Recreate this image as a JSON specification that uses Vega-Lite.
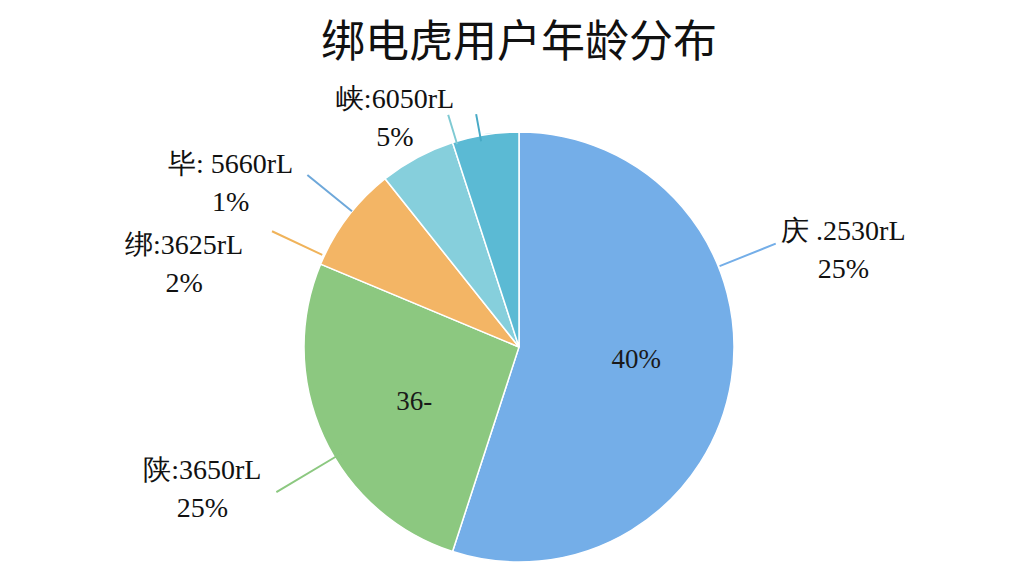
{
  "$schema": "https://vega.github.io/schema/vega-lite/v6.json",
  "autosize": "none",
  "width": 1010,
  "height": 494,
  "padding": {"left": 14, "top": 100, "right": 0, "bottom": 0},
  "background": "white",
  "title": {"text": "绑电虎用户年龄分布", "font": "Noto Sans CJK SC", "fontSize": 44, "fontWeight": "normal", "color": "#111111", "anchor": "middle", "frame": "group", "offset": 20},
  "config": {"view": {"stroke": null}},
  "data": {"values": [
    {"idx": 1, "cat": "a", "value": 55, "label": "庆 .2530rL\n25%", "inner": "40%"},
    {"idx": 2, "cat": "b", "value": 26.3, "label": "陕:3650rL\n25%", "inner": "36-"},
    {"idx": 3, "cat": "c", "value": 8, "label": "绑:3625rL\n2%", "inner": null},
    {"idx": 4, "cat": "d", "value": 5.7, "label": "毕: 5660rL\n1%", "inner": null},
    {"idx": 5, "cat": "e", "value": 5, "label": "峡:6050rL\n5%", "inner": null}
  ]},
  "transform": [
    {"stack": "value", "groupby": [], "sort": [{"field": "idx", "order": "ascending"}], "as": ["v0", "v1"]},
    {"calculate": "(datum.v0 + datum.v1) / 2", "as": "mid"}
  ],
  "layer": [
    {
      "mark": {"type": "arc", "outerRadius": 215, "stroke": "white", "strokeWidth": 1.5},
      "encoding": {
        "theta": {"field": "v0", "type": "quantitative", "scale": {"domain": [0, 100]}},
        "theta2": {"field": "v1"},
        "color": {"field": "cat", "type": "nominal", "scale": {"domain": ["a", "b", "c", "d", "e"], "range": ["#74aee8", "#8cc880", "#f3b565", "#86cfdc", "#5bbad4"]}, "legend": null}
      }
    },
    {
      "transform": [{"filter": "datum.inner != null"}],
      "mark": {"type": "text", "radius": 118, "thetaOffset": -0.05, "font": "Liberation Serif", "fontSize": 27, "color": "#1a1a1a", "align": "center", "baseline": "middle"},
      "encoding": {"theta": {"field": "mid", "type": "quantitative", "stack": null}, "text": {"field": "inner"}}
    },
    {
      "transform": [{"filter": "datum.cat === 'a'"}],
      "layer": [
        {"mark": {"type": "arc", "filled": false, "color": "#74aee8", "strokeWidth": 1.5, "innerRadius": 217, "outerRadius": 276, "thetaOffset": -0.541, "theta2Offset": -0.539},
         "encoding": {"theta": {"field": "mid", "type": "quantitative", "stack": null}, "theta2": {"field": "mid"}}},
        {"mark": {"type": "text", "radius": 344, "thetaOffset": -0.497, "lineBreak": "\n", "lineHeight": 38, "font": "Liberation Serif", "fontSize": 28, "color": "#111111", "align": "center", "baseline": "middle"},
         "encoding": {"theta": {"field": "mid", "type": "quantitative", "stack": null}, "text": {"field": "label"}}}
      ]
    },
    {
      "transform": [{"filter": "datum.cat === 'b'"}],
      "layer": [
        {"mark": {"type": "arc", "filled": false, "color": "#8cc880", "strokeWidth": 1.5, "innerRadius": 208, "outerRadius": 282, "thetaOffset": -0.11, "theta2Offset": -0.108},
         "encoding": {"theta": {"field": "mid", "type": "quantitative", "stack": null}, "theta2": {"field": "mid"}}},
        {"mark": {"type": "text", "radius": 340, "thetaOffset": 0.058, "lineBreak": "\n", "lineHeight": 38, "font": "Liberation Serif", "fontSize": 28, "color": "#111111", "align": "center", "baseline": "middle"},
         "encoding": {"theta": {"field": "mid", "type": "quantitative", "stack": null}, "text": {"field": "label"}}}
      ]
    },
    {
      "transform": [{"filter": "datum.cat === 'c'"}],
      "layer": [
        {"mark": {"type": "arc", "filled": false, "color": "#f0b35a", "strokeWidth": 1.5, "innerRadius": 218, "outerRadius": 272, "thetaOffset": -0.21, "theta2Offset": -0.208},
         "encoding": {"theta": {"field": "mid", "type": "quantitative", "stack": null}, "theta2": {"field": "mid"}}},
        {"mark": {"type": "text", "radius": 350, "thetaOffset": -0.353, "lineBreak": "\n", "lineHeight": 38, "font": "Liberation Serif", "fontSize": 28, "color": "#111111", "align": "center", "baseline": "middle"},
         "encoding": {"theta": {"field": "mid", "type": "quantitative", "stack": null}, "text": {"field": "label"}}}
      ]
    },
    {
      "transform": [{"filter": "datum.cat === 'd'"}],
      "layer": [
        {"mark": {"type": "arc", "filled": false, "color": "#6ea8da", "strokeWidth": 1.5, "innerRadius": 216, "outerRadius": 272, "thetaOffset": -0.396, "theta2Offset": -0.394},
         "encoding": {"theta": {"field": "mid", "type": "quantitative", "stack": null}, "theta2": {"field": "mid"}}},
        {"mark": {"type": "text", "radius": 341, "thetaOffset": -0.515, "lineBreak": "\n", "lineHeight": 38, "font": "Liberation Serif", "fontSize": 28, "color": "#111111", "align": "center", "baseline": "middle"},
         "encoding": {"theta": {"field": "mid", "type": "quantitative", "stack": null}, "text": {"field": "label"}}}
      ]
    },
    {
      "transform": [{"filter": "datum.cat === 'e'"}],
      "layer": [
        {"mark": {"type": "arc", "filled": false, "color": "#7fcad3", "strokeWidth": 1.5, "innerRadius": 213, "outerRadius": 242, "thetaOffset": -0.14, "theta2Offset": -0.138},
         "encoding": {"theta": {"field": "mid", "type": "quantitative", "stack": null}, "theta2": {"field": "mid"}}},
        {"mark": {"type": "arc", "filled": false, "color": "#48aac6", "strokeWidth": 1.5, "innerRadius": 210, "outerRadius": 236, "thetaOffset": -0.026, "theta2Offset": -0.024},
         "encoding": {"theta": {"field": "mid", "type": "quantitative", "stack": null}, "theta2": {"field": "mid"}}},
        {"mark": {"type": "text", "radius": 276, "thetaOffset": -0.309, "lineBreak": "\n", "lineHeight": 38, "font": "Liberation Serif", "fontSize": 28, "color": "#111111", "align": "center", "baseline": "middle"},
         "encoding": {"theta": {"field": "mid", "type": "quantitative", "stack": null}, "text": {"field": "label"}}}
      ]
    }
  ]
}
